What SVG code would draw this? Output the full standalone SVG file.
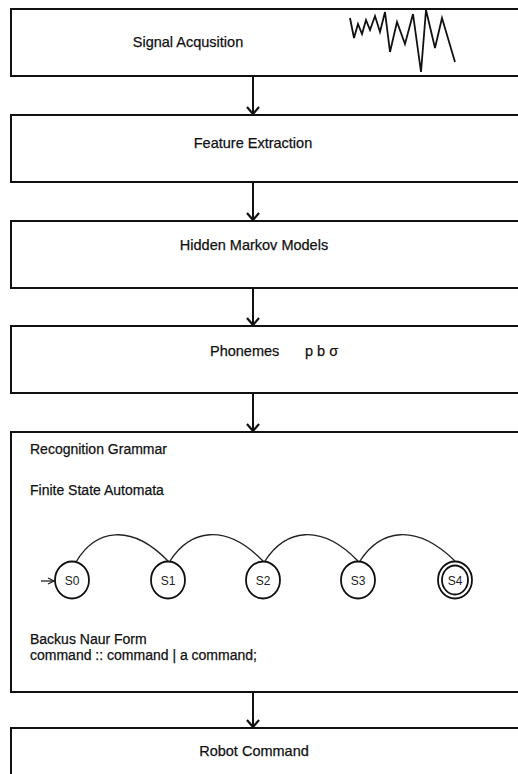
<svg xmlns="http://www.w3.org/2000/svg" width="518" height="774" viewBox="0 0 518 774">
<style>
.box{fill:#fff;stroke:#111;stroke-width:2}
.lbl{font-family:"Liberation Sans",Arial,sans-serif;font-size:14.5px;fill:#111;stroke:#111;stroke-width:0.25}
.sub{font-family:"Liberation Sans",Arial,sans-serif;font-size:14px;fill:#111;stroke:#111;stroke-width:0.25}
.conn{stroke:#111;stroke-width:2;fill:none}
.st{fill:#fff;stroke:#111;stroke-width:1.8}
.arc{stroke:#222;stroke-width:1.3;fill:none}
.sl{font-family:"Liberation Sans",Arial,sans-serif;font-size:12px;fill:#222;text-anchor:middle}
</style>
<defs>
<marker id="ah" viewBox="0 0 12 14" refX="10" refY="7" markerWidth="12" markerHeight="14" markerUnits="userSpaceOnUse" orient="auto">
<path d="M3,1 L10,7 L3,13" fill="none" stroke="#111" stroke-width="2.2"/>
</marker>
<marker id="ah2" viewBox="0 0 8 8" refX="7" refY="4" markerWidth="8" markerHeight="8" markerUnits="userSpaceOnUse" orient="auto">
<path d="M1,1 L7,4 L1,7" fill="none" stroke="#222" stroke-width="1.3"/>
</marker>
</defs>
<g id="connectors">
<path class="conn" d="M253,76 V114" marker-end="url(#ah)"/>
<path class="conn" d="M253,182 V220" marker-end="url(#ah)"/>
<path class="conn" d="M253,288 V325" marker-end="url(#ah)"/>
<path class="conn" d="M253,393 V431" marker-end="url(#ah)"/>
<path class="conn" d="M253,692 V727" marker-end="url(#ah)"/>
</g>
<g id="signal">
<rect class="box" x="11" y="9" width="530" height="67"/>
<text class="lbl" x="188" y="47" text-anchor="middle" font-size="15.5">Signal Acqusition</text>
<polyline fill="none" stroke="#111" stroke-width="1.8" stroke-linejoin="miter" points="350,18 354,38 358,24 362,34 366,20 370,30 375,16 380,32 385,12 390,52 397,22 405,44 413,14 421,72 426,10 435,48 442,18 455,62"/>
</g>
<g id="feature">
<rect class="box" x="11" y="115" width="530" height="67"/>
<text class="lbl" x="253" y="148" text-anchor="middle">Feature Extraction</text>
</g>
<g id="hmm">
<rect class="box" x="11" y="221" width="530" height="67"/>
<text class="lbl" x="254" y="250" text-anchor="middle">Hidden Markov Models</text>
</g>
<g id="phonemes">
<rect class="box" x="11" y="326" width="530" height="67"/>
<text class="lbl" x="210" y="356">Phonemes</text>
<text class="lbl" x="305" y="356">p b σ</text>
</g>
<g id="grammar">
<rect class="box" x="11" y="432" width="530" height="260"/>
<text class="sub" x="30" y="454">Recognition Grammar</text>
<text class="sub" x="30" y="495">Finite State Automata</text>
<g id="fsa">
<path class="arc" d="M76,562 C95,530 130,522 168,561"/>
<path class="arc" d="M170,561 C190,530 225,522 263,561"/>
<path class="arc" d="M265,561 C285,530 320,522 358,561"/>
<path class="arc" d="M360,561 C380,530 415,522 455,561"/>
<path class="arc" d="M41,581 H54" marker-end="url(#ah2)"/>
<ellipse class="st" cx="72" cy="580" rx="17" ry="18.5"/>
<ellipse class="st" cx="168" cy="580" rx="17" ry="18.5"/>
<ellipse class="st" cx="263" cy="580" rx="17" ry="18.5"/>
<ellipse class="st" cx="358" cy="580" rx="17" ry="18.5"/>
<ellipse class="st" cx="455" cy="580" rx="17" ry="18.5"/>
<ellipse class="st" cx="455" cy="580" rx="13" ry="14.5"/>
<text class="sl" x="72" y="585">S0</text>
<text class="sl" x="168" y="585">S1</text>
<text class="sl" x="263" y="585">S2</text>
<text class="sl" x="358" y="585">S3</text>
<text class="sl" x="455" y="585">S4</text>
</g>
<text class="sub" x="30" y="644" font-size="13">Backus Naur Form</text>
<text class="sub" x="30" y="660" font-size="13">command :: command | a command;</text>
</g>
<g id="robot">
<rect class="box" x="11" y="728" width="530" height="67"/>
<text class="lbl" x="254" y="756" text-anchor="middle">Robot Command</text>
</g>
</svg>
